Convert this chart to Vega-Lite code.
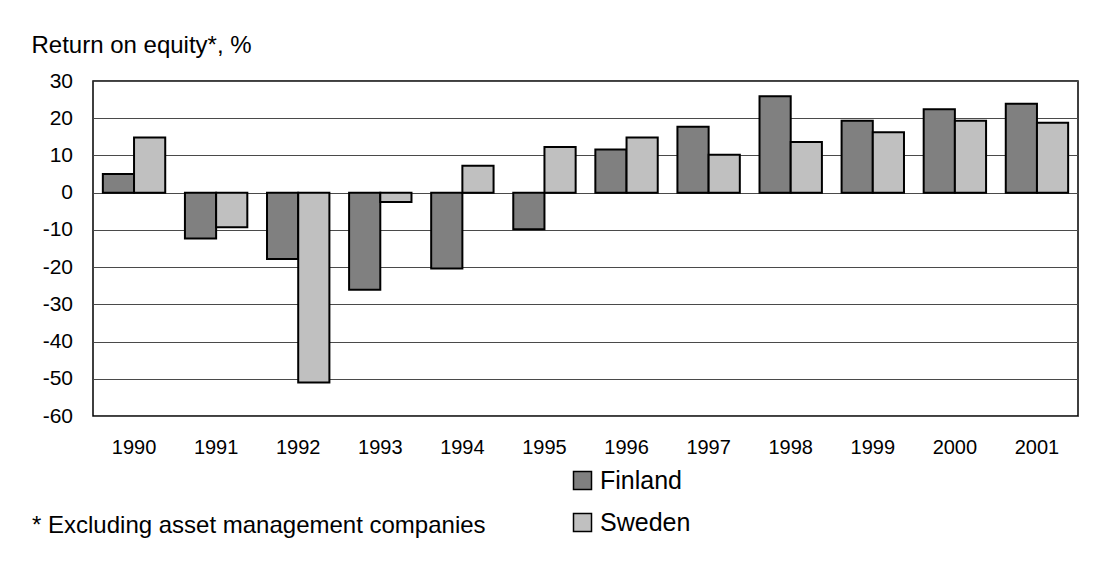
{
  "$schema": "https://vega.github.io/schema/vega-lite/v6.json",
  "autosize": "none",
  "padding": {"left": 93, "top": 81, "right": 28, "bottom": 146},
  "width": 985,
  "height": 335,
  "background": "white",
  "title": {
    "text": "Return on equity*, %",
    "anchor": "start",
    "frame": "group",
    "dx": -61.5,
    "dy": 25,
    "offset": 18,
    "baseline": "alphabetic",
    "font": "Liberation Sans",
    "fontSize": 24,
    "fontWeight": "normal",
    "color": "#000000"
  },
  "data": {
    "values": [
      {"year": "1990", "country": "Finland", "roe": 5.0},
      {"year": "1990", "country": "Sweden", "roe": 14.8},
      {"year": "1991", "country": "Finland", "roe": -12.3},
      {"year": "1991", "country": "Sweden", "roe": -9.3},
      {"year": "1992", "country": "Finland", "roe": -17.8},
      {"year": "1992", "country": "Sweden", "roe": -51.0},
      {"year": "1993", "country": "Finland", "roe": -26.1},
      {"year": "1993", "country": "Sweden", "roe": -2.5},
      {"year": "1994", "country": "Finland", "roe": -20.4},
      {"year": "1994", "country": "Sweden", "roe": 7.2},
      {"year": "1995", "country": "Finland", "roe": -9.8},
      {"year": "1995", "country": "Sweden", "roe": 12.3},
      {"year": "1996", "country": "Finland", "roe": 11.6},
      {"year": "1996", "country": "Sweden", "roe": 14.8},
      {"year": "1997", "country": "Finland", "roe": 17.7},
      {"year": "1997", "country": "Sweden", "roe": 10.2},
      {"year": "1998", "country": "Finland", "roe": 25.9},
      {"year": "1998", "country": "Sweden", "roe": 13.6},
      {"year": "1999", "country": "Finland", "roe": 19.3},
      {"year": "1999", "country": "Sweden", "roe": 16.2},
      {"year": "2000", "country": "Finland", "roe": 22.4},
      {"year": "2000", "country": "Sweden", "roe": 19.3},
      {"year": "2001", "country": "Finland", "roe": 23.9},
      {"year": "2001", "country": "Sweden", "roe": 18.8}
    ]
  },
  "mark": {"type": "bar", "stroke": "#000000", "strokeWidth": 2},
  "encoding": {
    "x": {
      "field": "year",
      "type": "nominal",
      "sort": null,
      "scale": {"paddingInner": 0.24, "paddingOuter": 0.12},
      "axis": {
        "title": "* Excluding asset management companies",
        "titleX": -61.5,
        "titleY": 116.4,
        "titleAlign": "left",
        "titleBaseline": "alphabetic",
        "titleFont": "Liberation Sans",
        "titleFontSize": 24,
        "titleFontWeight": "normal",
        "titleColor": "#000000",
        "labelAngle": 0,
        "labelFont": "Liberation Sans",
        "labelFontSize": 20,
        "labelColor": "#000000",
        "labelPadding": 21,
        "ticks": false,
        "tickSize": 0,
        "domain": false,
        "grid": false
      }
    },
    "xOffset": {
      "field": "country",
      "type": "nominal",
      "scale": {"paddingInner": 0, "paddingOuter": 0}
    },
    "y": {
      "field": "roe",
      "type": "quantitative",
      "scale": {"domain": [-60, 30], "nice": false, "zero": false},
      "axis": {
        "title": null,
        "values": [-60, -50, -40, -30, -20, -10, 0, 10, 20, 30],
        "labelExpr": "'' + datum.value",
        "labelFont": "Liberation Sans",
        "labelFontSize": 21,
        "labelColor": "#000000",
        "labelPadding": 20.5,
        "ticks": false,
        "tickSize": 0,
        "domain": false,
        "grid": true,
        "gridColor": "#4a4a4a",
        "gridWidth": 1,
        "gridOpacity": 1
      }
    },
    "fill": {
      "field": "country",
      "type": "nominal",
      "scale": {"domain": ["Finland", "Sweden"], "range": ["#808080", "#c0c0c0"]},
      "legend": {
        "title": null,
        "orient": "none",
        "legendX": 477,
        "legendY": 387,
        "direction": "vertical",
        "symbolType": "square",
        "symbolSize": 324,
        "symbolStrokeColor": "#000000",
        "symbolStrokeWidth": 1.5,
        "labelFont": "Liberation Sans",
        "labelFontSize": 25,
        "labelColor": "#000000",
        "labelOffset": 5,
        "rowPadding": 16
      }
    }
  },
  "config": {
    "view": {"stroke": "#000000", "strokeWidth": 1.5}
  }
}
